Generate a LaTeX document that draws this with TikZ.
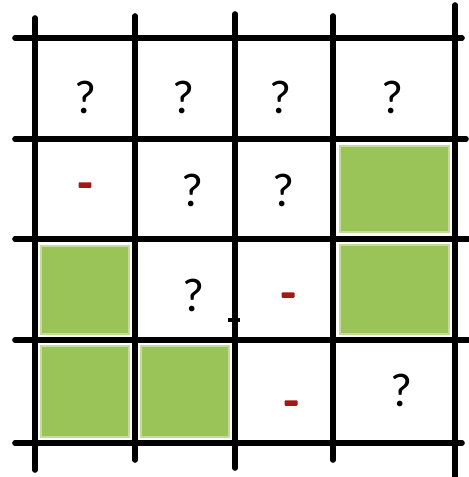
\documentclass[tikz,border=0pt]{standalone}
\usepackage{fontspec}
\setmainfont{Carlito}
\usepackage{tikz}
\usetikzlibrary{positioning}

\definecolor{leafgreen}{RGB}{155,196,88}
\definecolor{darkred}{RGB}{165,22,22}

\begin{document}
\begin{tikzpicture}[
    x=0.02cm, y=-0.02cm,
    gridline/.style={line width=3.2pt, line cap=round},
    full/.style={fill=leafgreen, draw=leafgreen!60!white, line width=0.6pt},
    unknown/.style={font=\fontsize{27}{27}\selectfont, inner sep=0pt},
    minus/.style={fill=darkred, rounded corners=0.5pt, minimum width=0.26cm, minimum height=0.11cm, inner sep=0pt}
]
\useasboundingbox (0,0) rectangle (468,477);

% green cells
\fill[full] (41,246) rectangle (129,334);
\fill[full] (41,346) rectangle (129,437);
\fill[full] (141,346) rectangle (229,437);
\fill[full] (340,146) rectangle (449,232);
\fill[full] (340,245) rectangle (449,334);

% grid
\draw[gridline] (15,38) -- (462,38);
\draw[gridline] (15,139) -- (466,139);
\draw[gridline] (15,239) -- (468,239);
\draw[gridline] (15,340) -- (468,340);
\draw[gridline] (15,443) -- (462,443);
\draw[gridline] (35,18) -- (35,470);
\draw[gridline] (135,16) -- (135,460);
\draw[gridline] (235,14) -- (235,468);
\draw[gridline] (333,16) -- (333,460);
\draw[gridline] (455,5) -- (455,477);
\draw[line width=1.8pt] (228,320) -- (240,320);

% marks
\node[unknown] (q11) at (85,97) {?};
\node[unknown] (q12) at (183,97) {?};
\node[unknown] (q13) at (280,97) {?};
\node[unknown] (q14) at (392,97) {?};
\node[minus] (m21) at (85,185) {};
\node[unknown] (q22) at (192,190) {?};
\node[unknown] (q23) at (283,190) {?};
\node[unknown] (q32) at (193,295) {?};
\node[minus] (m33) at (288,295) {};
\node[minus] (m43) at (291,403) {};
\node[unknown] (q44) at (401,390) {?};

\end{tikzpicture}
\end{document}
